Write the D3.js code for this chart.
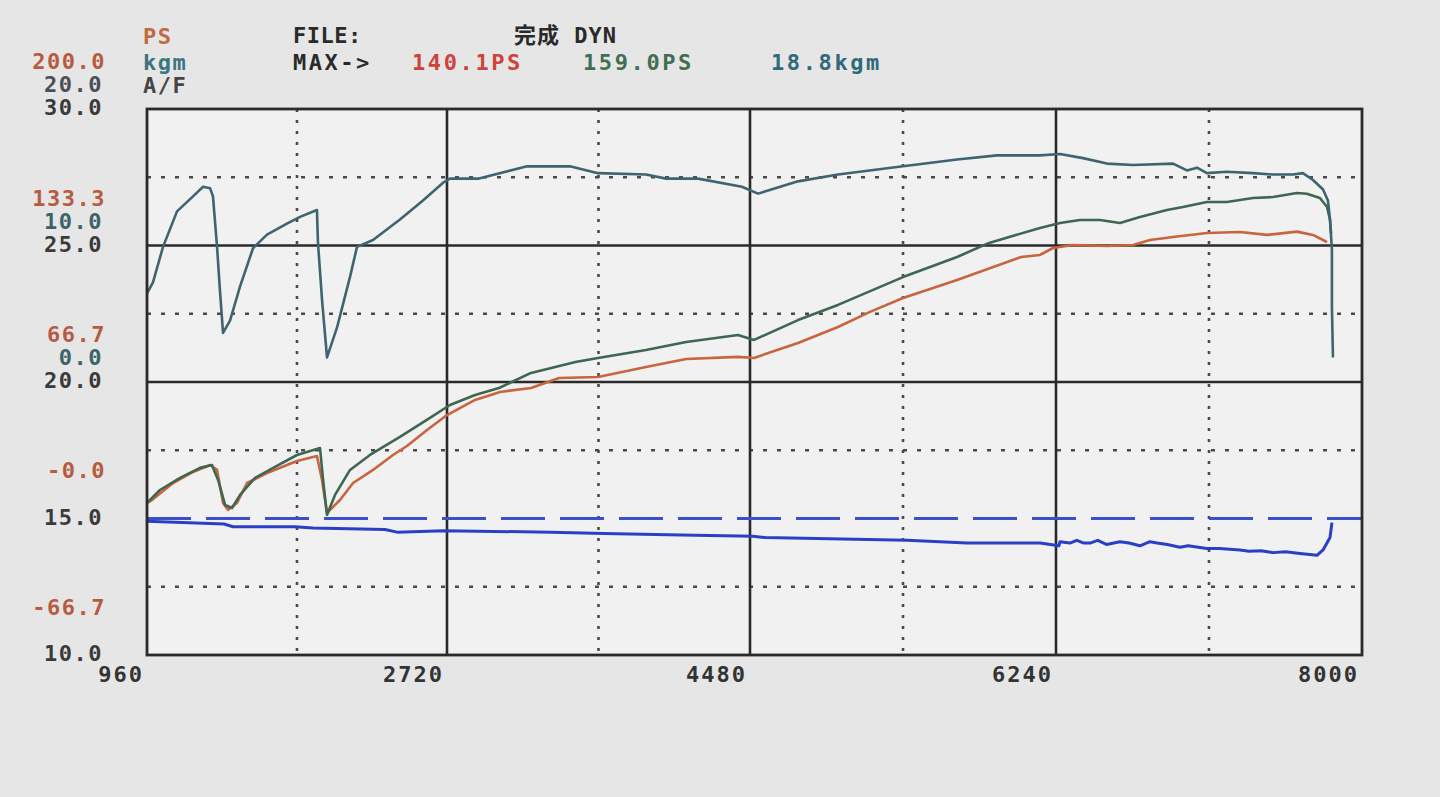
<!DOCTYPE html>
<html>
<head>
<meta charset="utf-8">
<script src="https://cdn.jsdelivr.net/npm/d3@7/dist/d3.min.js"></script>
<style>
  html, body { margin: 0; padding: 0; background: #e6e6e6; }
  svg { display: block; }
  text { font-family: "DejaVu Sans Mono", "Liberation Mono", monospace; font-weight: bold; }
</style>
</head>
<body>
<script>
// ---------- DATA ----------
const rpmTicks   = [960, 2720, 4480, 6240, 8000];
const rpmMinor   = [1840, 3600, 5360, 7120];
const psTicks    = [200, 133.3, 66.7, 0, -66.7];
const psLabels   = ["200.0", "133.3", "66.7", "-0.0", "-66.7"];
const kgmTicks   = [20, 10, 0];
const kgmLabels  = ["20.0", "10.0", "0.0"];
const afTicks    = [30, 25, 20, 15, 10];
const afLabels   = ["30.0", "25.0", "20.0", "15.0", "10.0"];
const afMajor    = [25, 20];
const afMinor    = [27.5, 22.5, 17.5, 12.5];
const afTarget   = 15.0;

// wheel power PS (red)
const psWheel = [[960,7.6],[989,9.0],[1113,17.3],[1230,22.7],[1330,26.1],[1371,23.7],[1406,7.6],[1435,4.2],[1488,7.6],[1547,17.3],[1664,22.2],[1781,26.1],[1840,28.1],[1957,30.5],[1987,18.8],[2016,2.7],[2092,9.0],[2169,17.3],[2286,23.7],[2403,31.0],[2485,35.4],[2603,43.2],[2720,50.5],[2883,57.9],[3028,61.8],[3208,63.7],[3371,68.6],[3597,69.1],[3876,74.0],[4109,77.9],[4410,78.9],[4503,78.4],[4756,85.7],[4986,93.5],[5170,100.9],[5360,107.7],[5671,116.5],[6039,127.7],[6148,128.7],[6223,132.1],[6338,133.6],[6533,133.1],[6683,133.6],[6781,136.0],[6913,137.5],[7108,139.4],[7298,139.9],[7453,138.5],[7626,140.1],[7718,138.5],[7776,136.0],[7799,135.0]];

// engine power PS (green)
const psEngine = [[960,7.6],[1036,13.9],[1154,19.8],[1271,24.7],[1341,26.1],[1377,18.8],[1418,6.6],[1459,5.1],[1506,11.5],[1594,19.8],[1711,25.2],[1840,31.0],[1975,34.4],[1993,18.8],[2016,1.7],[2063,11.5],[2151,23.7],[2268,31.0],[2444,39.8],[2620,49.1],[2737,55.4],[2883,60.3],[3022,63.7],[3208,71.1],[3466,76.4],[3597,78.4],[3876,82.3],[4109,86.2],[4410,89.6],[4503,87.2],[4756,96.9],[4986,104.3],[5360,117.9],[5671,127.7],[5855,134.6],[6148,141.9],[6263,144.3],[6378,145.8],[6493,145.8],[6608,144.3],[6723,147.3],[6878,150.7],[6970,152.1],[7108,154.6],[7223,154.6],[7373,156.5],[7488,157.0],[7626,159.0],[7683,158.6],[7758,156.5],[7799,152.1],[7816,145.8],[7822,139.4]];

// torque kgm (teal)
const torque = [[960,6.5],[995,7.3],[1054,9.9],[1136,12.5],[1230,13.6],[1289,14.3],[1330,14.2],[1347,13.6],[1371,9.9],[1388,6.7],[1406,3.6],[1447,4.5],[1506,7.0],[1582,9.8],[1664,10.8],[1781,11.6],[1858,12.1],[1957,12.6],[1963,10.2],[1987,6.0],[2016,1.8],[2075,4.0],[2151,7.7],[2192,9.9],[2286,10.4],[2444,11.9],[2579,13.3],[2697,14.6],[2737,14.9],[2906,14.9],[3185,15.8],[3434,15.8],[3597,15.3],[3876,15.2],[3992,14.9],[4178,14.9],[4433,14.3],[4526,13.8],[4756,14.7],[4986,15.2],[5360,15.8],[5671,16.3],[5900,16.6],[6148,16.6],[6263,16.7],[6395,16.4],[6533,16.0],[6683,15.9],[6913,16.0],[6993,15.5],[7051,15.7],[7108,15.3],[7223,15.4],[7373,15.3],[7488,15.2],[7603,15.2],[7660,15.3],[7718,14.8],[7776,14.1],[7804,13.3],[7816,11.9],[7827,9.7],[7827,5.5],[7833,1.8]];

// air / fuel ratio (blue)
const airFuel = [[960,14.9],[1412,14.8],[1465,14.7],[1828,14.7],[1934,14.65],[2356,14.6],[2427,14.5],[2702,14.55],[3324,14.5],[3632,14.45],[4079,14.4],[4497,14.35],[4566,14.3],[5383,14.2],[5728,14.1],[6148,14.1],[6257,14.0],[6263,14.15],[6320,14.1],[6360,14.2],[6400,14.1],[6436,14.1],[6480,14.2],[6530,14.05],[6608,14.15],[6660,14.1],[6723,14.0],[6780,14.15],[6821,14.1],[6880,14.05],[6953,13.95],[7000,14.0],[7108,13.9],[7180,13.9],[7298,13.85],[7350,13.8],[7420,13.82],[7488,13.75],[7560,13.78],[7643,13.72],[7741,13.65],[7776,13.85],[7816,14.3],[7827,14.85]];

// ---------- LAYOUT ----------
const W = 1440, H = 797;
const L = 147, R = 1362, T = 109, B = 655;

const svg = d3.select("body").append("svg").attr("width", W).attr("height", H);
svg.append("rect").attr("width", W).attr("height", H).attr("fill", "#e6e6e6");

const x = d3.scaleLinear().domain(rpmTicks).range([L, 447, 750, 1056, R]);
const yPS  = d3.scaleLinear().domain([-66.7, 200]).range([B, T]);
const yKgm = d3.scaleLinear().domain([-20, 20]).range([B, T]);
const yAF  = d3.scaleLinear().domain([10, 30]).range([B, T]);

svg.append("rect").attr("x", L).attr("y", T).attr("width", R - L).attr("height", B - T)
  .attr("fill", "#f1f1f1");

const grid = svg.append("g");
// dotted vertical
grid.selectAll(".vmin").data(rpmMinor).enter().append("line")
  .attr("x1", d => x(d)).attr("x2", d => x(d)).attr("y1", T).attr("y2", B)
  .attr("stroke", "#4a4a4a").attr("stroke-width", 2.6).attr("stroke-dasharray", "3,8");
// dotted horizontal
grid.selectAll(".hmin").data(afMinor).enter().append("line")
  .attr("x1", L).attr("x2", R).attr("y1", d => yAF(d)).attr("y2", d => yAF(d))
  .attr("stroke", "#4a4a4a").attr("stroke-width", 2.6).attr("stroke-dasharray", "4,10");
// solid vertical
grid.selectAll(".vmaj").data(rpmTicks.slice(1, -1)).enter().append("line")
  .attr("x1", d => x(d)).attr("x2", d => x(d)).attr("y1", T).attr("y2", B)
  .attr("stroke", "#2a2a2a").attr("stroke-width", 2.6);
// solid horizontal
grid.selectAll(".hmaj").data(afMajor).enter().append("line")
  .attr("x1", L).attr("x2", R).attr("y1", d => yAF(d)).attr("y2", d => yAF(d))
  .attr("stroke", "#2a2a2a").attr("stroke-width", 2.6);

// A/F target dashed blue
svg.append("line").attr("x1", L).attr("x2", R)
  .attr("y1", yAF(afTarget)).attr("y2", yAF(afTarget))
  .attr("stroke", "#3a4fcc").attr("stroke-width", 3).attr("stroke-dasharray", "44,15");

// ---------- CURVES ----------
const mk = ys => d3.line().x(d => x(d[0])).y(d => ys(d[1])).curve(d3.curveLinear);

svg.append("path").datum(psWheel).attr("d", mk(yPS))
  .attr("fill", "none").attr("stroke", "#c8643e").attr("stroke-width", 2.6).attr("stroke-linejoin", "round");
svg.append("path").datum(psEngine).attr("d", mk(yPS))
  .attr("fill", "none").attr("stroke", "#3f6650").attr("stroke-width", 2.6).attr("stroke-linejoin", "round");
svg.append("path").datum(torque).attr("d", mk(yKgm))
  .attr("fill", "none").attr("stroke", "#3e6470").attr("stroke-width", 2.6).attr("stroke-linejoin", "round");
svg.append("path").datum(airFuel).attr("d", mk(yAF))
  .attr("fill", "none").attr("stroke", "#2b3fc6").attr("stroke-width", 3).attr("stroke-linejoin", "round");

// frame
svg.append("rect").attr("x", L).attr("y", T).attr("width", R - L).attr("height", B - T)
  .attr("fill", "none").attr("stroke", "#2a2a2a").attr("stroke-width", 2.8);

// ---------- TEXT ----------
const txt = (s, xx, yy, color, anchor, size, ls) =>
  svg.append("text").attr("x", xx).attr("y", yy).attr("fill", color)
    .attr("text-anchor", anchor || "start").attr("font-size", size || 22)
    .attr("letter-spacing", ls == null ? 1.5 : ls).text(s);

// header
txt("PS", 143, 44, "#c2693f");
txt("kgm", 143, 70, "#3a7580");
txt("A/F", 143, 93, "#454545");
txt("FILE:", 293, 43, "#2a2a2a", "start", 22, 0.5);
svg.append("text").attr("x", 514).attr("y", 43).attr("fill", "#2a2a2a")
  .attr("font-size", 22).attr("letter-spacing", 1)
  .html('<tspan style="font-family:\'Noto Sans CJK JP\';font-weight:bold">完成</tspan><tspan> DYN</tspan>');
txt("MAX->", 293, 70, "#2a2a2a", "start", 22, 2.5);
txt("140.1PS", 412, 70, "#cf423c", "start", 22, 2.6);
txt("159.0PS", 583, 70, "#3f6e52", "start", 22, 2.6);
txt("18.8kgm", 771, 70, "#2f6a7a", "start", 22, 2.6);

// left scale labels
const LX = 106;
psTicks.forEach((v, i) => txt(psLabels[i], LX, yPS(v) - 40, "#b85a40", "end"));
kgmTicks.forEach((v, i) => txt(kgmLabels[i], LX - 3, yKgm(v) - 17, i === 0 ? "#4a4f55" : "#3b6468", "end"));
afTicks.forEach((v, i) => txt(afLabels[i], LX - 3, yAF(v) + 6, "#3a3a3a", "end"));

// bottom rpm labels
rpmTicks.forEach(v => txt(String(v), x(v) - 3, 682, "#333333", "end", 22, 2));
</script>
</body>
</html>
